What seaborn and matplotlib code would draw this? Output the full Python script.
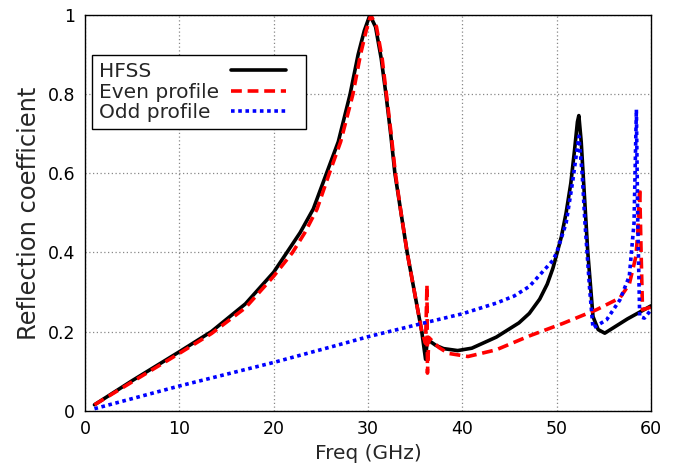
import matplotlib
matplotlib.use("Agg")
import matplotlib.pyplot as plt
from matplotlib.legend_handler import HandlerLine2D
import seaborn as sns
import pandas as pd

# ---- data ----
hfss_f = [1, 5, 10, 13.4, 17, 18.5, 20, 21.4, 22.8, 24.2, 25.6, 26.85, 28.1, 28.95, 29.6, 30.2,
          30.8, 31.4, 31.9, 32.4, 32.85, 33.5, 34.15, 35.0, 35.7, 36.1, 36.3, 36.6, 37.2,
          38, 39.5, 41, 43.6, 46, 47.1, 48.2, 49.0, 49.6, 50.0, 50.5, 51.0, 51.5, 51.9, 52.2, 52.35,
          52.6, 52.8, 53.3, 53.85, 54.4, 55.1, 57.5, 60]
hfss_v = [0.015, 0.076, 0.149, 0.2, 0.27, 0.31, 0.35, 0.4, 0.45, 0.51, 0.6, 0.68, 0.8, 0.9, 0.96, 1.0,
          0.97, 0.89, 0.8, 0.7, 0.6, 0.5, 0.4, 0.29, 0.2, 0.13, 0.185, 0.175, 0.165,
          0.157, 0.152, 0.158, 0.186, 0.222, 0.246, 0.282, 0.32, 0.36, 0.395, 0.44, 0.5, 0.575, 0.66, 0.73, 0.746,
          0.68, 0.6, 0.4, 0.238, 0.205, 0.196, 0.232, 0.265]

even_f = [1, 5, 10, 13.4, 17, 18.5, 20, 22.0, 23.3, 24.6, 25.9, 27.1, 28.4, 29.2, 29.8, 30.3,
          30.9, 31.5, 31.95, 32.45, 32.9, 33.5, 34.15, 35.0, 35.7, 36.1, 36.25, 36.3, 36.45,
          37.5, 38.5, 40.6, 43.6, 47.1, 50.7, 54.2, 56.7, 57.7, 58.4, 58.6, 58.8, 58.95, 59.1, 60]
even_v = [0.015, 0.073, 0.145, 0.195, 0.26, 0.3, 0.34, 0.4, 0.45, 0.51, 0.6, 0.68, 0.8, 0.9, 0.96, 1.0,
          0.97, 0.89, 0.8, 0.7, 0.6, 0.5, 0.4, 0.29, 0.2, 0.17, 0.318, 0.095, 0.185,
          0.16, 0.145, 0.137, 0.154, 0.189, 0.221, 0.255, 0.285, 0.32, 0.39, 0.45, 0.563, 0.4, 0.255, 0.262]

odd_f = [1, 10, 20, 26.5, 30, 36.5, 40, 43.6, 45.5, 47.1, 48.2, 49.6, 50.0, 51.0, 51.7, 52.35,
         52.7, 53.0, 53.5, 53.85, 55.3, 56.7, 57.7, 58.2, 58.45, 58.6, 58.8, 59.3, 60]
odd_v = [0.005, 0.0625, 0.122, 0.164, 0.187, 0.225, 0.245, 0.272, 0.29, 0.314, 0.343, 0.38, 0.4, 0.474, 0.58, 0.694,
         0.6, 0.474, 0.306, 0.209, 0.23, 0.28, 0.34, 0.474, 0.761, 0.47, 0.238, 0.234, 0.255]

x_ticks = [0, 10, 20, 30, 40, 50, 60]
y_ticks = [0, 0.2, 0.4, 0.6, 0.8, 1.0]
y_tick_labels = ["0", "0.2", "0.4", "0.6", "0.8", "1"]

sns.set_style("white")
plt.rcParams['font.family'] = ['DejaVu Sans']

fig = plt.figure(figsize=(6.77, 4.71), dpi=100)
ax = fig.add_axes([0.1256, 0.128, 0.836, 0.840])

df_h = pd.DataFrame({"f": hfss_f, "v": hfss_v})
df_e = pd.DataFrame({"f": even_f, "v": even_v})
df_o = pd.DataFrame({"f": odd_f, "v": odd_v})

sns.lineplot(data=df_h, x="f", y="v", ax=ax, color="black", lw=2.6, label="HFSS", sort=False)
sns.lineplot(data=df_e, x="f", y="v", ax=ax, color="#ff0000", lw=2.6, label="Even profile", sort=False)
sns.lineplot(data=df_o, x="f", y="v", ax=ax, color="#0000ff", lw=2.6, label="Odd profile", sort=False)

lines = ax.get_lines()
lines[0].set_solid_joinstyle("round")
lines[1].set_dashes([3, 1.6])
lines[2].set_dashes([1.0, 1.0])
lines[2].set_dash_capstyle("butt")

ax.set_xlim(0, 60)
ax.set_ylim(0, 1)
ax.set_xticks(x_ticks)
ax.set_yticks(y_ticks)
ax.set_yticklabels(y_tick_labels)
ax.tick_params(direction="in", length=7, width=1, labelsize=12.5, colors="black", pad=7)
ax.grid(True, linestyle=(0, (1, 2)), color="#888888", lw=0.9)
for s in ax.spines.values():
    s.set_color("black")
    s.set_linewidth(1.0)

ax.set_xlabel("Freq (GHz)", fontsize=14.5, labelpad=4)
ax.set_ylabel("Reflection coefficient", fontsize=17.4, labelpad=5)


class ShortLine(HandlerLine2D):
    def create_artists(self, legend, orig_handle, xdescent, ydescent, width, height, fontsize, trans):
        return super().create_artists(legend, orig_handle, xdescent, ydescent,
                                      width * 0.8, height, fontsize, trans)


leg = ax.legend(loc="upper left", bbox_to_anchor=(0.0118, 0.899), markerfirst=False,
                fontsize=14.5, frameon=True, fancybox=False, edgecolor="black",
                handlelength=3.4, handletextpad=0.6, borderpad=0.35, labelspacing=0.08,
                borderaxespad=0, handler_map={matplotlib.lines.Line2D: ShortLine()})
leg.get_frame().set_linewidth(1.0)
leg.get_frame().set_alpha(1)

# left-align legend labels (text first, samples aligned on the right)
fig.canvas.draw()
renderer = fig.canvas.get_renderer()
col = leg._legend_handle_box.get_children()[0]
items = col.get_children()
widths = [t.get_window_extent(renderer).width for t in leg.get_texts()]
maxw = max(widths)
for item, w in zip(items, widths):
    item.sep += (maxw - w) * 72.0 / fig.dpi

fig.savefig("out.png", dpi=100)
